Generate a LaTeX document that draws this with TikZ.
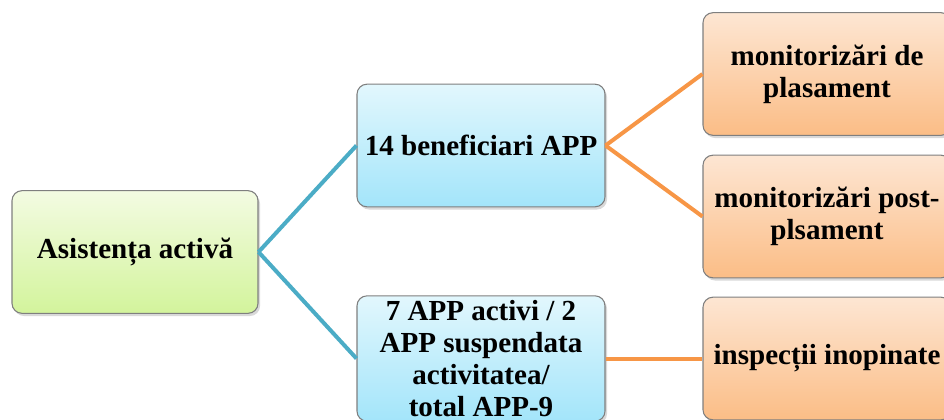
\documentclass[tikz,border=0pt]{standalone}
\usepackage{fontspec}
\setmainfont{Liberation Serif}
\usepackage{xcolor}
\usepackage{tikz}
\usetikzlibrary{shapes,positioning,calc,shadows,backgrounds}
\definecolor{greentop}{HTML}{F3FBE2}
\definecolor{greenbot}{HTML}{D3F49C}
\definecolor{bluetop}{HTML}{E2F7FD}
\definecolor{bluebot}{HTML}{A3E5FA}
\definecolor{orangetop}{HTML}{FDE6D3}
\definecolor{orangebot}{HTML}{FBBD86}
\definecolor{tealline}{HTML}{4BACC6}
\definecolor{orangeline}{HTML}{F79646}
\definecolor{boxedge}{HTML}{7F7F7F}

\begin{document}
\begin{tikzpicture}[x=0.75pt,y=-0.75pt,
  box/.style={draw=boxedge,line width=0.8pt,rounded corners=7.5pt,
    minimum width=186pt,minimum height=92pt,align=center,
    font=\fontsize{21.8}{24}\selectfont\bfseries,
    drop shadow={opacity=0.3,shadow xshift=1.5pt,shadow yshift=-2pt}},
  greenbox/.style={box,top color=greentop,bottom color=greenbot,minimum width=184.5pt},
  bluebox/.style={box,top color=bluetop,bottom color=bluebot},
  orangebox/.style={box,top color=orangetop,bottom color=orangebot},
  tealconn/.style={tealline,line width=3pt},
  orangeconn/.style={orangeline,line width=3pt}]
  \useasboundingbox (0,0) rectangle (944,419);

  % Root box
  \node[greenbox] (root) at (135,252) {Asistența activă};

  % Second level
  \node[bluebox] (benef) at (481,145.5) {14 beneficiari APP};
  \node[bluebox] (activi) at (481,358.5) {7 APP activi / 2\\APP suspendata\\activitatea/\\total APP-9};

  % Third level
  \node[orangebox] (plas) at (827,74) {monitorizări de\\plasament};
  \node[orangebox] (postplas) at (827,216.5) {monitorizări post-\\plsament};
  \node[orangebox] (inspectii) at (827,358.5) {inspecții inopinate};

  % Connectors
  \draw[tealconn] (root.east) -- (benef.west);
  \draw[tealconn] (root.east) -- (activi.west);
  \draw[orangeconn] (benef.east) -- (plas.west);
  \draw[orangeconn] (benef.east) -- (postplas.west);
  \draw[orangeconn] (activi.east) -- (inspectii.west);
\end{tikzpicture}
\end{document}
